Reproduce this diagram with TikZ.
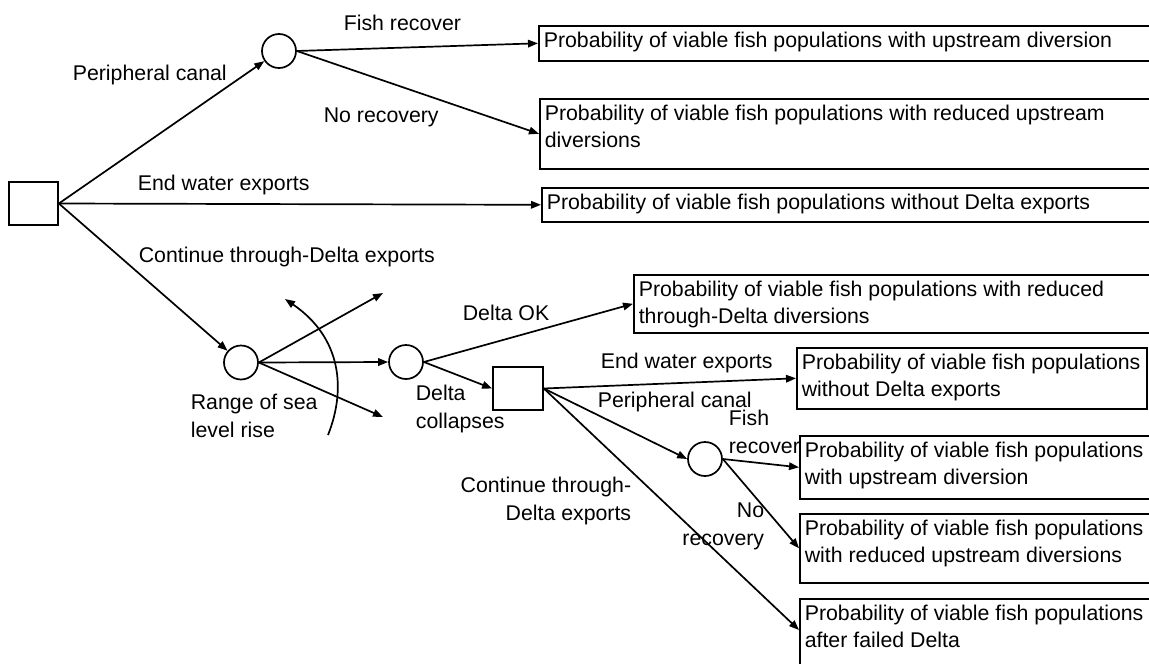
\documentclass[tikz,border=0pt]{standalone}
\usepackage{fontspec}
\setmainfont{Liberation Sans}
\usetikzlibrary{arrows.meta,calc}

% outcome text: fixed-height box, text set from the top
\newcommand{\boxtext}[3]{\parbox[c][#1][t]{#2}{\rule{0pt}{21.5pt}#3}}

\begin{document}
\begin{tikzpicture}[x=1pt,y=-1pt,
  font=\fontsize{21.3}{27.5}\selectfont,
  line width=1.7pt,
  decision/.style={draw, rectangle, minimum width=49pt, minimum height=43pt, inner sep=0pt},
  chance/.style={draw, circle, minimum size=34pt, inner sep=0pt},
  outcome/.style={draw, rectangle, anchor=north west, inner xsep=5pt, inner ysep=0pt, line width=1.6pt},
  lbl/.style={inner sep=0pt, anchor=west},
  branch/.style={-{Triangle[length=10pt,width=7.5pt]}, line width=1.7pt},
]
\useasboundingbox (0,0) rectangle (1149,664);
\clip (0,0) rectangle (1149,664);

% decision and chance nodes
\node[decision] (d0) at (33.5,203.5) {};
\node[chance] (c1) at (279,51) {};
\node[chance] (c2) at (241,362.5) {};
\node[chance] (c3) at (406,362) {};
\node[decision, minimum width=50pt] (d1) at (518,388.5) {};
\node[chance] (c4) at (705,459) {};

% outcomes
\node[outcome] (o1) at (538,25) {\boxtext{35pt}{700pt}{Probability of viable fish populations with upstream diversion}};
\node[outcome] (o2) at (539,98) {\boxtext{70pt}{700pt}{Probability of viable fish populations with reduced upstream\\diversions}};
\node[outcome] (o3) at (541,187) {\boxtext{34pt}{700pt}{Probability of viable fish populations without Delta exports}};
\node[outcome] (o4) at (633,274) {\boxtext{58pt}{700pt}{Probability of viable fish populations with reduced\\through-Delta diversions}};
\node[outcome] (o5) at (796,347) {\boxtext{61pt}{340pt}{Probability of viable fish populations\\without Delta exports}};
\node[outcome] (o6) at (799,435) {\boxtext{63pt}{700pt}{Probability of viable fish populations\\with upstream diversion}};
\node[outcome] (o7) at (799,513) {\boxtext{69pt}{700pt}{Probability of viable fish populations\\with reduced upstream diversions}};
\node[outcome] (o8) at (799,598) {\boxtext{90pt}{700pt}{Probability of viable fish populations\\after failed Delta}};

% branch labels
\node[lbl] (l1) at (343,23) {Fish recover};
\node[lbl] (l2) at (72,75) {Peripheral canal};
\node[lbl] (l3) at (323,117) {No recovery};
\node[lbl] (l4) at (137,185) {End water exports};
\node[lbl] (l5) at (138,257) {Continue through-Delta exports};
\node[lbl] (l6) at (462,313) {Delta OK};
\node[lbl] (l7) at (600,363) {End water exports};
\node[lbl] (l8) at (597,402) {Peripheral canal};
\node[lbl, align=left] (l9) at (190,418) {Range of sea\strut\\level rise\strut};
\node[lbl, align=left] (l10) at (415,409) {Delta\strut\\collapses\strut};
\node[lbl, align=left] (l11) at (728,434) {Fish\strut\\recover\strut};
\node[lbl, anchor=east, align=right] (l12) at (632,501) {Continue through-\strut\\Delta exports\strut};
\node[lbl, anchor=east, align=right] (l13) at (765,526) {No\strut\\recovery\strut};

% free ends
\coordinate (f1) at (383,293);
\coordinate (f3) at (383,417);
\coordinate (aB) at (328,435);
\coordinate (aT) at (285,299);
\coordinate (t8) at ($(o8.north west)+(0,32)$);

% branches
\draw[branch] (d0.east) -- (c1);
\draw[branch] (d0.east) -- (o3.west);
\draw[branch] (d0.east) -- (c2);
\draw[branch] (c1.east) -- (o1.west);
\draw[branch] (c1.east) -- (o2.west);
\draw[branch] (c2.east) -- (f1);
\draw[branch] (c2.east) -- (c3.west);
\draw[branch] (c2.east) -- (f3);
\draw[branch] (aB) .. controls (346,390) and (342,338) .. (aT);
\draw[branch] (c3.east) -- (o4.west);
\draw[branch] (c3.east) -- (d1.west);
\draw[branch] (d1.east) -- (o5.west);
\draw[branch] (d1.east) -- (c4.west);
\draw[branch] (d1.east) -- (t8);
\draw[branch] (c4.east) -- (o6.west);
\draw[branch] (c4.east) -- (o7.west);
\end{tikzpicture}
\end{document}
